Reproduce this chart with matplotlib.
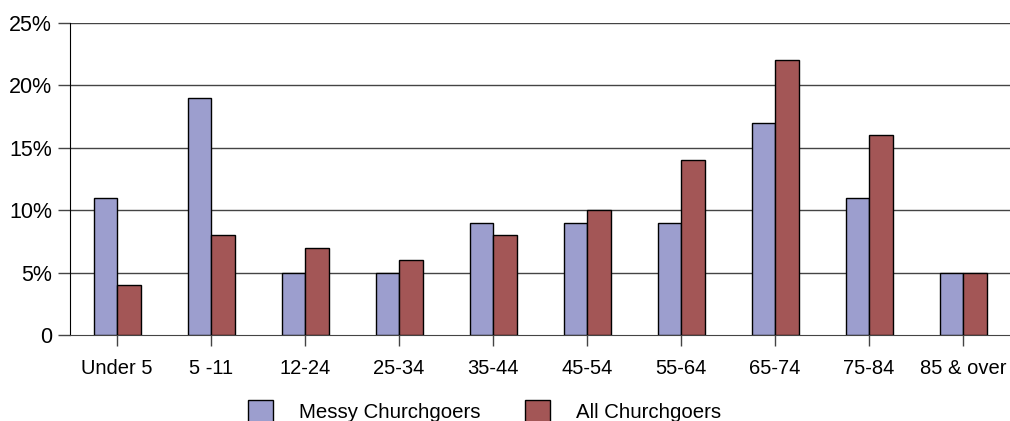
import numpy as np
import matplotlib
matplotlib.use("Agg")
import matplotlib.pyplot as plt

plt.rcParams['font.family'] = ['Liberation Sans', 'DejaVu Sans']

categories = ["Under 5", "5 -11", "12-24", "25-34", "35-44", "45-54", "55-64", "65-74", "75-84", "85 & over"]
messy = [11, 19, 5, 5, 9, 9, 9, 17, 11, 5]
all_church = [4, 8, 7, 6, 8, 10, 14, 22, 16, 5]
yticks = [0, 5, 10, 15, 20, 25]
ylabels = ["0", "5%", "10%", "15%", "20%", "25%"]

fig = plt.figure(figsize=(10.1, 4.21), dpi=100)
ax = fig.add_axes([70/1010, 1 - 335/421, 1 - 70/1010, (335 - 23)/421])

x = np.arange(len(categories))
w = 0.25
b1 = ax.bar(x - w/2, messy, w, color='#9C9ECE', edgecolor='black', linewidth=1, label='Messy Churchgoers', zorder=3)
b2 = ax.bar(x + w/2, all_church, w, color='#A35656', edgecolor='black', linewidth=1, label='All Churchgoers', zorder=3)

ax.set_xlim(-0.5, len(categories) - 0.5)
ax.set_ylim(0, 25)
ax.set_yticks(yticks)
ax.set_yticklabels(ylabels, fontsize=15.5)
ax.set_xticks(x)
ax.set_xticklabels(categories, fontsize=14.5)
ax.tick_params(axis='y', length=9, width=1, color='#444444', pad=4)
ax.tick_params(axis='x', length=8, width=1, color='#444444', pad=9)
for y in yticks[1:]:
    ax.axhline(y, color='#444444', linewidth=1, zorder=1)
for s in ['top', 'right']:
    ax.spines[s].set_visible(False)
ax.spines['left'].set_color('black')
ax.spines['bottom'].set_color('#444444')

fig.legend(handles=[b1, b2], loc='upper left', bbox_to_anchor=(248/1010, 1 - 400/421),
           ncol=2, frameon=False, fontsize=14.65, borderpad=0, borderaxespad=0,
           handlelength=1.23, handleheight=1.3, handletextpad=1.28, columnspacing=2.16)

plt.savefig('out.png', dpi=100)
